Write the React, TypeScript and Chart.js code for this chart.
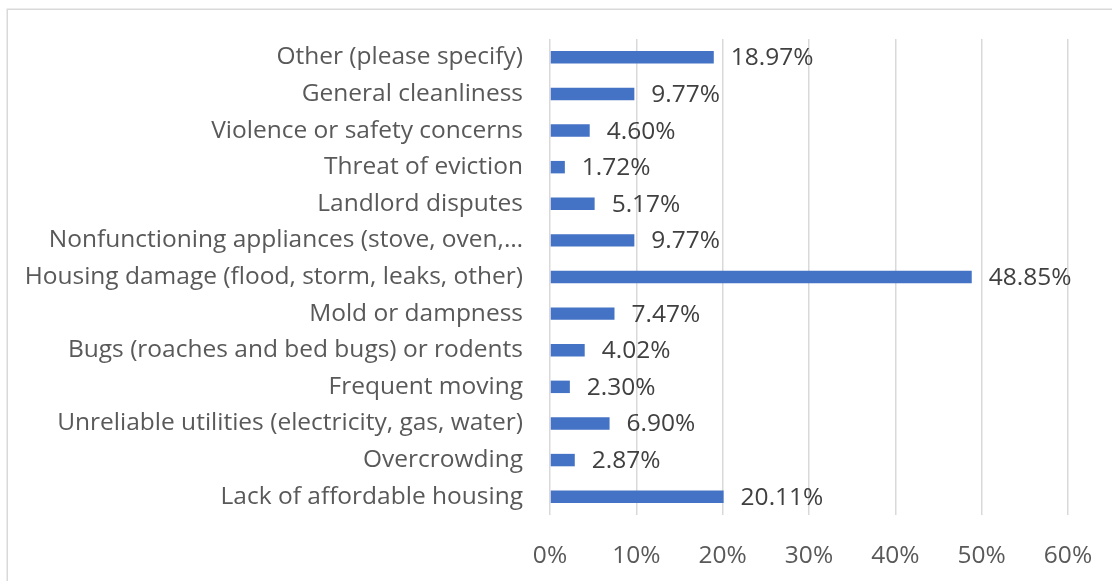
import React, { useEffect, useRef } from "react";
import { Chart, registerables } from "chart.js";

Chart.register(...registerables);

const categories = [
  "Other (please specify)",
  "General cleanliness",
  "Violence or safety concerns",
  "Threat of eviction",
  "Landlord disputes",
  "Nonfunctioning appliances (stove, oven,…",
  "Housing damage (flood, storm, leaks, other)",
  "Mold or dampness",
  "Bugs (roaches and bed bugs) or rodents",
  "Frequent moving",
  "Unreliable utilities (electricity, gas, water)",
  "Overcrowding",
  "Lack of affordable housing",
];
const values = [18.97, 9.77, 4.6, 1.72, 5.17, 9.77, 48.85, 7.47, 4.02, 2.3, 6.9, 2.87, 20.11];
const xTicks = [0, 10, 20, 30, 40, 50, 60];

const FONT = "'Open Sans'";
const SIZE = 24.5;

const framePlugin = {
  id: "frame",
  beforeDraw(chart: any) {
    const ctx = chart.ctx;
    ctx.save();
    ctx.fillStyle = "#ffffff";
    ctx.fillRect(0, 0, chart.width, chart.height);
    ctx.strokeStyle = "#d9d9d9";
    ctx.lineWidth = 1.5;
    ctx.strokeRect(7.25, 9.25, chart.width + 20, chart.height + 20);
    ctx.restore();
  },
};

const labelPlugin = {
  id: "valueLabels",
  afterDatasetsDraw(chart: any) {
    const ctx = chart.ctx;
    const meta = chart.getDatasetMeta(0);
    ctx.save();
    ctx.fillStyle = "#404040";
    ctx.font = `${SIZE}px ${FONT}`;
    ctx.textAlign = "left";
    ctx.textBaseline = "middle";
    meta.data.forEach((bar: any, i: number) => {
      ctx.fillText(values[i].toFixed(2) + "%", bar.x + 17, bar.y + 1);
    });
    ctx.restore();
  },
};

export default function App() {
  const ref = useRef<HTMLCanvasElement | null>(null);
  useEffect(() => {
    if (!ref.current) return;
    const chart = new Chart(ref.current, {
      type: "bar",
      data: {
        labels: categories,
        datasets: [
          {
            data: values,
            backgroundColor: "#4472C4",
            barPercentage: 0.34,
            categoryPercentage: 1,
          },
        ],
      },
      options: {
        indexAxis: "y",
        animation: false,
        responsive: false,
        maintainAspectRatio: false,
        layout: { padding: { left: 0, top: 39, right: 44, bottom: 0 } },
        plugins: { legend: { display: false }, tooltip: { enabled: false } },
        scales: {
          x: {
            min: 0,
            max: 60,
            afterFit: (s: any) => {
              s.height = 66;
              s.paddingLeft = 0;
              s.paddingRight = 0;
            },
            afterBuildTicks: (s: any) => {
              s.ticks = xTicks.map((v) => ({ value: v }));
            },
            border: { display: false },
            grid: { color: "#d9d9d9", lineWidth: 1.5, drawTicks: false },
            ticks: {
              padding: 26,
              color: "#595959",
              font: { family: FONT, size: SIZE },
              callback: (v: any) => v + "%",
            },
          },
          y: {
            afterFit: (s: any) => {
              s.width = 550;
              s.paddingTop = 0;
              s.paddingBottom = 0;
            },
            border: { display: false },
            grid: { display: false, drawTicks: false },
            ticks: {
              padding: 27,
              color: "#595959",
              font: { family: FONT, size: SIZE },
              autoSkip: false,
            },
          },
        },
      },
      plugins: [framePlugin, labelPlugin],
    });
    return () => chart.destroy();
  }, []);
  return (
    <div style={{ position: "fixed", left: 0, top: 0, width: 1112, height: 581 }}>
      <canvas ref={ref} width={1112} height={581} style={{ display: "block" }} />
    </div>
  );
}
